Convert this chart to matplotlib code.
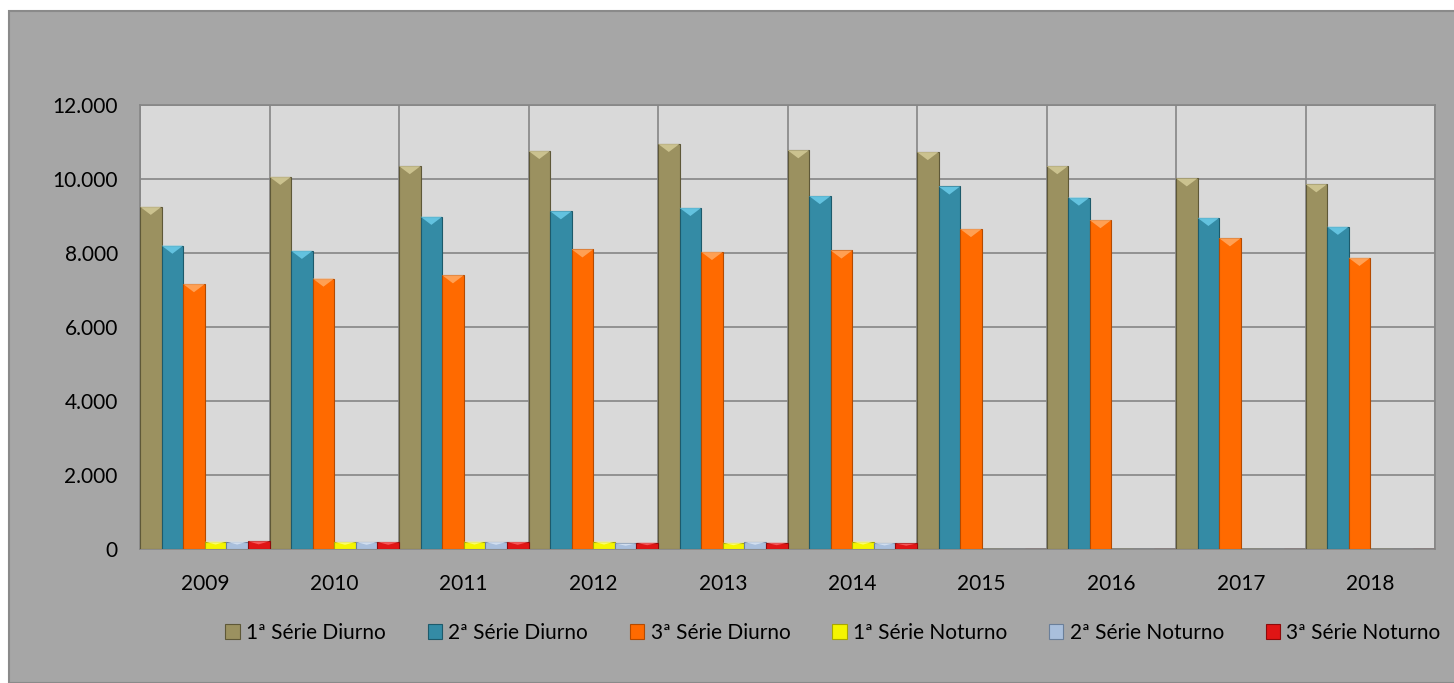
import matplotlib
matplotlib.use("Agg")
import matplotlib.pyplot as plt
from matplotlib.patches import Rectangle, Polygon
from matplotlib.ticker import FuncFormatter, MultipleLocator
import numpy as np

plt.rcParams['font.family'] = ['Lato', 'DejaVu Sans']

years = ['2009', '2010', '2011', '2012', '2013', '2014', '2015', '2016', '2017', '2018']
series = ['1ª Série Diurno', '2ª Série Diurno', '3ª Série Diurno',
          '1ª Série Noturno', '2ª Série Noturno', '3ª Série Noturno']

serie1_diurno = [9250, 10060, 10350, 10760, 10950, 10780, 10730, 10350, 10020, 9860]
serie2_diurno = [8200, 8060, 8980, 9130, 9220, 9540, 9800, 9500, 8950, 8710]
serie3_diurno = [7160, 7310, 7400, 8100, 8030, 8070, 8650, 8890, 8400, 7870]
serie1_noturno = [200, 190, 200, 200, 170, 200, 0, 0, 0, 0]
serie2_noturno = [200, 190, 190, 150, 190, 160, 0, 0, 0, 0]
serie3_noturno = [210, 190, 190, 170, 170, 150, 0, 0, 0, 0]

values = [serie1_diurno, serie2_diurno, serie3_diurno,
          serie1_noturno, serie2_noturno, serie3_noturno]
colors = ['#9b9160', '#348ba5', '#ff6a00', '#f5f500', '#a9bfdc', '#e01515']
edges = ['#5e5838', '#1d5a6b', '#b44a00', '#a8a800', '#6a7f9a', '#8e0a0a']
tops = ['#d8cf9c', '#6fd0ee', '#ffae6a', '#ffff8a', '#dde8f6', '#ff6a6a']

fig = plt.figure(figsize=(14.54, 6.83), dpi=100, facecolor='white')
# chart area background
fig.patches.append(Rectangle((9 / 1454, 0), 1, 1 - 11 / 683, transform=fig.transFigure,
                             facecolor='#a6a6a6', edgecolor='#8a8a8a', lw=1.5, zorder=-10))

ax = fig.add_axes([140 / 1454, 1 - 549 / 683, (1435 - 140) / 1454, (549 - 105) / 683])
ax.set_zorder(1)
ax.set_facecolor('#d9d9d9')

x = np.arange(len(years))
w = 1 / 6
for k, (vals, c) in enumerate(zip(values, colors)):
    pos = x - 0.5 + (k + 0.5) * w
    bars = ax.bar(pos, vals, width=w, color=c, edgecolor=edges[k], linewidth=0.8, zorder=3)
    for b in bars:
        h = b.get_height()
        if h <= 0:
            continue
        bx, bw = b.get_x(), b.get_width()
        d = min(220, h * 0.4)
        tri = Polygon([(bx, h), (bx + bw, h), (bx + bw / 2, h - d)], closed=True,
                      facecolor=tops[k], edgecolor='none', alpha=0.8, zorder=4)
        ax.add_patch(tri)

ax.set_xlim(-0.5, len(years) - 0.5)
ax.set_ylim(0, 12000)
ax.yaxis.set_major_locator(MultipleLocator(2000))
ax.yaxis.set_major_formatter(FuncFormatter(lambda v, p: f'{int(v):,}'.replace(',', '.')))
ax.set_xticks(x)
ax.set_xticklabels(years)
ax.set_xticks(np.arange(-0.5, len(years)), minor=True)
ax.grid(axis='y', which='major', color='#868686', lw=1.2, zorder=1)
ax.grid(axis='x', which='minor', color='#868686', lw=1.2, zorder=1)
ax.set_axisbelow(True)
ax.tick_params(axis='both', which='both', length=0, labelsize=15, colors='black')
ax.tick_params(axis='y', pad=16)
ax.tick_params(axis='x', pad=18)
for s in ax.spines.values():
    s.set_color('#868686')
    s.set_linewidth(1.2)

handles = [Rectangle((0, 0), 1, 1, facecolor=c, edgecolor=e, lw=0.8) for c, e in zip(colors, edges)]
fig.legend(handles, series, loc='center', bbox_to_anchor=(833 / 1454, 1 - 633 / 683), ncol=6,
           frameon=False, fontsize=15, handlelength=0.7, handleheight=0.7,
           handletextpad=0.3, columnspacing=2.0)

fig.savefig('out.png', dpi=100, facecolor=fig.get_facecolor())
